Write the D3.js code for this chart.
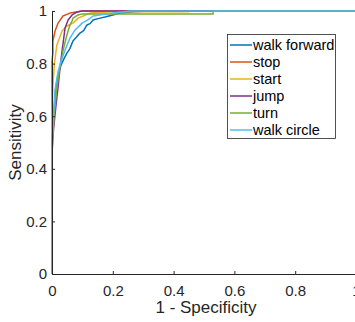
<!DOCTYPE html>
<html>
<head>
<meta charset="utf-8">
<script src="https://cdn.jsdelivr.net/npm/d3@7"></script>
<style>
  body { margin: 0; background: #fff; }
  svg { display: block; font-family: "Liberation Sans", Arial, sans-serif; }
</style>
</head>
<body>
<div id="chart"></div>
<script>
// ROC curves (fpr = 1 - specificity, tpr = sensitivity)
const seriesNames = ['walk forward', 'stop', 'start', 'jump', 'turn', 'walk circle'];
const seriesColors = ['#0072BD', '#D95319', '#EDB120', '#7E2F8E', '#77AC30', '#4DBEEE'];

const walkForwardFpr = [0, 0, 0.005, 0.012, 0.02, 0.03, 0.04, 0.049, 0.058, 0.069, 0.08, 0.092, 0.104, 0.115, 0.125, 0.135, 0.155, 0.174, 0.2, 0.224, 0.27, 0.32, 1];
const walkForwardTpr = [0, 0.5, 0.6, 0.7, 0.76, 0.795, 0.82, 0.84, 0.855, 0.886, 0.9, 0.916, 0.925, 0.947, 0.952, 0.966, 0.972, 0.977, 0.985, 0.992, 0.997, 1, 1];

const stopFpr = [0, 0, 0.003, 0.003, 0.01, 0.02, 0.036, 0.059, 0.1, 1];
const stopTpr = [0, 0.81, 0.84, 0.886, 0.924, 0.954, 0.981, 0.992, 1, 1];

const startFpr = [0, 0, 0.003, 0.008, 0.016, 0.033, 0.049, 0.069, 0.086, 0.102, 0.125, 0.2, 0.45, 0.45, 1];
const startTpr = [0, 0.6, 0.72, 0.8, 0.871, 0.924, 0.943, 0.954, 0.973, 0.981, 0.992, 0.997, 0.997, 1, 1];

const jumpFpr = [0, 0, 0.005, 0.013, 0.02, 0.026, 0.033, 0.043, 0.053, 0.066, 0.082, 0.099, 1];
const jumpTpr = [0, 0.46, 0.55, 0.64, 0.71, 0.78, 0.848, 0.935, 0.966, 0.985, 0.996, 1, 1];

const turnFpr = [0, 0, 0.007, 0.015, 0.025, 0.032, 0.036, 0.049, 0.059, 0.066, 0.069, 0.086, 0.1, 0.53, 0.53, 1];
const turnTpr = [0, 0.5, 0.6, 0.7, 0.78, 0.82, 0.848, 0.909, 0.947, 0.962, 0.973, 0.985, 0.989, 0.989, 1, 1];

const walkCircleFpr = [0, 0, 0.005, 0.01, 0.02, 0.03, 0.043, 0.059, 0.076, 0.099, 0.118, 0.135, 0.2, 0.26, 1];
const walkCircleTpr = [0, 0.46, 0.6, 0.7, 0.77, 0.81, 0.852, 0.897, 0.928, 0.954, 0.966, 0.981, 0.992, 1, 1];

const xTicks = [0, 0.2, 0.4, 0.6, 0.8, 1];
const yTicks = [0, 0.2, 0.4, 0.6, 0.8, 1];

const fprs = [walkForwardFpr, stopFpr, startFpr, jumpFpr, turnFpr, walkCircleFpr];
const tprs = [walkForwardTpr, stopTpr, startTpr, jumpTpr, turnTpr, walkCircleTpr];
const series = seriesNames.map((name, i) => ({
  name,
  color: seriesColors[i],
  points: fprs[i].map((f, j) => [f, tprs[i][j]])
}));

const width = 355, height = 322;
const axisColor = '#262626';
const tickFormat = (d) => d === 0 || d === 1 ? d3.format('d')(d) : d3.format('.1f')(d);

const xScale = d3.scaleLinear().domain([0, 1]).range([52, 356]);
const yScale = d3.scaleLinear().domain([0, 1]).range([274, 11]);

const svg = d3.select('#chart')
  .append('svg')
    .attr('width', width)
    .attr('height', height);

const line = d3.line()
  .x((d) => xScale(d[0]))
  .y((d) => yScale(d[1]));

svg.append('g')
  .selectAll('path')
  .data(series)
  .join('path')
    .attr('fill', 'none')
    .attr('stroke', (d) => d.color)
    .attr('stroke-width', 1.5)
    .attr('stroke-linejoin', 'round')
    .attr('d', (d) => line(d.points));

// axes, ticks inside like MATLAB
const xAxis = svg.append('g')
  .attr('transform', `translate(0, ${yScale(0)})`)
  .call(d3.axisBottom(xScale).tickValues(xTicks).tickSizeInner(-3).tickSizeOuter(0).tickFormat(tickFormat));
xAxis.select('.domain').attr('stroke', axisColor);
xAxis.selectAll('.tick line').attr('stroke', axisColor);
xAxis.selectAll('.tick text')
  .attr('fill', axisColor)
  .attr('font-size', 15)
  .attr('font-family', '"Liberation Sans", Arial, sans-serif')
  .attr('dy', '1.27em');

const yAxis = svg.append('g')
  .attr('transform', `translate(${xScale(0)}, 0)`)
  .call(d3.axisLeft(yScale).tickValues(yTicks).tickSizeInner(-3).tickSizeOuter(0).tickFormat(tickFormat));
yAxis.select('.domain').attr('stroke', axisColor);
yAxis.selectAll('.tick line').attr('stroke', axisColor);
yAxis.selectAll('.tick text')
  .attr('fill', axisColor)
  .attr('font-size', 15)
  .attr('font-family', '"Liberation Sans", Arial, sans-serif')
  .attr('x', -5);

svg.append('text')
  .attr('x', 206)
  .attr('y', 313)
  .attr('text-anchor', 'middle')
  .attr('font-size', 17)
  .attr('fill', axisColor)
  .text('1 - Specificity');

svg.append('text')
  .attr('transform', `translate(21, ${(yScale(0) + yScale(1)) / 2}) rotate(-90)`)
  .attr('text-anchor', 'middle')
  .attr('font-size', 17)
  .attr('fill', axisColor)
  .text('Sensitivity');

// legend
const legend = svg.append('g');
legend.append('rect')
  .attr('x', 227.5)
  .attr('y', 34.5)
  .attr('width', 108)
  .attr('height', 104)
  .attr('fill', '#fff')
  .attr('stroke', axisColor)
  .attr('stroke-width', 0.8);

const item = legend.selectAll('g.item')
  .data(series)
  .join('g')
    .attr('class', 'item')
    .attr('transform', (d, i) => `translate(0, ${45 + i * 17})`);

item.append('line')
  .attr('x1', 230)
  .attr('x2', 252)
  .attr('stroke', (d) => d.color)
  .attr('stroke-width', 1.5);

item.append('text')
  .attr('x', 253)
  .attr('dy', '0.35em')
  .attr('font-size', 14.5)
  .attr('fill', '#000')
  .text((d) => d.name);
</script>
</body>
</html>
